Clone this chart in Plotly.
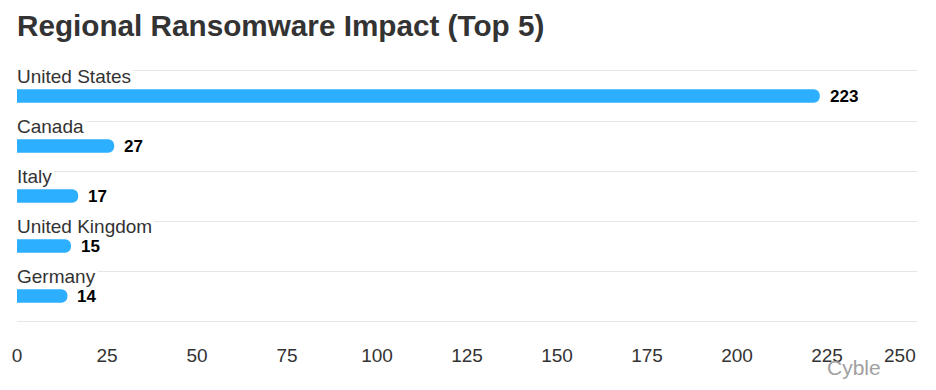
import plotly.graph_objects as go

countries = ["United States", "Canada", "Italy", "United Kingdom", "Germany"]
attacks = [223, 27, 17, 15, 14]
x_ticks = [0, 25, 50, 75, 100, 125, 150, 175, 200, 225, 250]

BAR_COLOR = "#2caffe"
TEXT = "#333333"
GRID = "#e6e6e6"
FONT = "Liberation Sans, Arial, sans-serif"

idx = list(range(len(countries)))

fig = go.Figure()
fig.add_trace(go.Bar(
    x=attacks, y=idx, orientation="h",
    marker=dict(color=BAR_COLOR, cornerradius="50%", line=dict(width=0)),
    width=0.27, hoverinfo="skip",
))

annotations = []
for i, (c, v) in enumerate(zip(countries, attacks)):
    annotations.append(dict(
        x=0, y=i, xref="x", yref="y", text=c, showarrow=False,
        xanchor="left", yanchor="middle", xshift=-2, yshift=20,
        font=dict(family=FONT, size=19, color=TEXT),
        bgcolor="white", borderpad=1,
    ))
    annotations.append(dict(
        x=v, y=i, xref="x", yref="y", text=f"<b>{v}</b>", showarrow=False,
        xanchor="left", yanchor="middle", xshift=8, yshift=0,
        font=dict(family=FONT, size=17, color="#000000"),
    ))
# last axis tick label, kept inside the chart edge like the original
annotations.append(dict(
    x=x_ticks[-1], y=0, xref="x", yref="paper", text=str(x_ticks[-1]),
    showarrow=False, xanchor="right", yanchor="middle", xshift=1, yshift=-34,
    font=dict(family=FONT, size=19, color=TEXT),
))
annotations.append(dict(
    x=1.0, y=0, xref="paper", yref="paper", text="Cyble", showarrow=False,
    xanchor="right", yanchor="middle", xshift=-34, yshift=-46,
    font=dict(family=FONT, size=21, color="#a0a0a0"),
))

fig.update_layout(
    width=936, height=390,
    margin=dict(l=17, r=19, t=71, b=69),
    paper_bgcolor="white", plot_bgcolor="white",
    showlegend=False,
    title=dict(
        text="<b>Regional Ransomware Impact (Top 5)</b>",
        x=17 / 936, xref="container", xanchor="left",
        y=1 - 26 / 390, yref="container", yanchor="middle",
        font=dict(family=FONT, size=29.7, color=TEXT),
    ),
    xaxis=dict(
        range=[0, 250], tickvals=x_ticks[:-1], showgrid=False, zeroline=False,
        ticks="outside", ticklen=17, tickcolor="rgba(0,0,0,0)",
        tickfont=dict(family=FONT, size=19, color=TEXT),
        showline=True, mirror=True, linecolor=GRID, linewidth=1,
        automargin=False, fixedrange=True,
    ),
    yaxis=dict(
        range=[len(countries) - 0.5, -0.5],
        tickvals=[i - 0.5 for i in range(len(countries) + 1)],
        showticklabels=False, showgrid=True, gridcolor=GRID, gridwidth=1,
        zeroline=False, showline=False, automargin=False, fixedrange=True,
    ),
    annotations=annotations,
)

fig.write_html("out.html", config={"displayModeBar": False})

with open("out.html", "r", encoding="utf-8") as f:
    html = f.read()
html = html.replace("<head>", "<head><style>html,body{margin:0;padding:0;overflow:hidden;}</style>", 1)
with open("out.html", "w", encoding="utf-8") as f:
    f.write(html)
